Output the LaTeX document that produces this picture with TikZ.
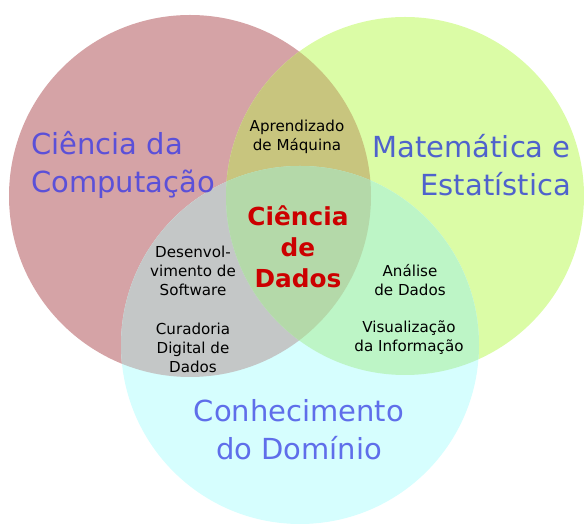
\documentclass[tikz,border=0pt]{standalone}
\usepackage{fontspec}
\setmainfont{DejaVu Sans}
\usepackage{tikz}
\usepackage{xcolor}

\definecolor{compfill}{HTML}{D5A3A6}
\definecolor{matfill}{HTML}{DBFCA6}
\definecolor{domfill}{HTML}{D6FEFE}
\definecolor{compmat}{HTML}{C8C57E}
\definecolor{compdom}{HTML}{C4C7C7}
\definecolor{matdom}{HTML}{BDF5C6}
\definecolor{allfill}{HTML}{B4D9A9}
\definecolor{compblue}{HTML}{5B50D8}
\definecolor{matblue}{HTML}{4F62CC}
\definecolor{domblue}{HTML}{5F6EEA}
\definecolor{dadosred}{HTML}{CC0000}

\tikzset{
  arealabel/.style={font=\fontsize{16.5}{21.6}\selectfont},
  smalllabel/.style={align=center, font=\fontsize{8.6}{10.8}\selectfont},
  mainlabel/.style={align=center, text=dadosred, font=\fontsize{14.1}{17.6}\selectfont\bfseries}
}

\begin{document}
\begin{tikzpicture}
      \useasboundingbox (0,0) rectangle (11.68,10.48);

      \coordinate (comp) at (3.8,6.56);
      \coordinate (mat) at (8.1,6.56);
      \coordinate (dom) at (6.0,3.58);

      % the three areas
      \fill[compfill] (comp) circle (3.62);
      \fill[matfill] (mat) circle (3.58);
      \fill[domfill] (dom) circle (3.58);

      % overlaps
      \begin{scope}
        \clip (comp) circle (3.62);
        \fill[compmat] (mat) circle (3.58);
        \fill[compdom] (dom) circle (3.58);
      \end{scope}
      \begin{scope}
        \clip (mat) circle (3.58);
        \fill[matdom] (dom) circle (3.58);
        \clip (comp) circle (3.62);
        \fill[allfill] (dom) circle (3.58);
      \end{scope}

      \node[arealabel, anchor=west, align=left, text=compblue] (cs) at (0.5,7.18) {Ciência da\\Computação};
      \node[arealabel, anchor=east, align=right, text=matblue] (me) at (11.54,7.18) {Matemática e\\Estatística};
      \node[arealabel, align=center, text=domblue] (cd) at (5.98,1.88) {Conhecimento\\do Domínio};

      \node[smalllabel] (ml) at (5.94,7.74) {Aprendizado\\de Máquina};
      \node[mainlabel] (ds) at (5.96,5.54) {Ciência\\de\\Dados};

      \node[smalllabel] (sw) at (3.86,5.06) {Desenvol-\\vimento de\\Software};
      \node[smalllabel] (cur) at (3.86,3.52) {Curadoria\\Digital de\\Dados};

      \node[smalllabel] (ad) at (8.2,4.88) {Análise\\de Dados};
      \node[smalllabel] (vis) at (8.18,3.72) {Visualização\\da Informação};

    \end{tikzpicture}
\end{document}
